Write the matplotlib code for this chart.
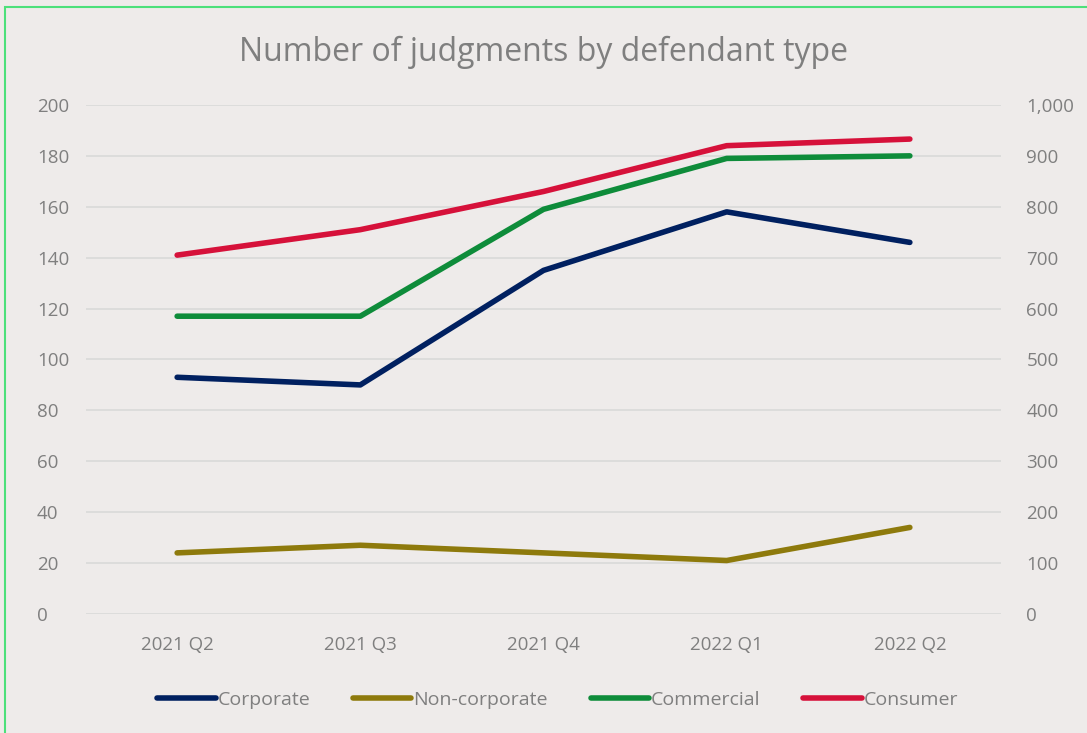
import matplotlib
matplotlib.use("Agg")
import matplotlib.pyplot as plt
from matplotlib.patches import Rectangle
from matplotlib.ticker import FuncFormatter, MultipleLocator

categories = ["2021 Q2", "2021 Q3", "2021 Q4", "2022 Q1", "2022 Q2"]
corporate = [93, 90, 135, 158, 146]
non_corporate = [24, 27, 24, 21, 34]
commercial = [117, 117, 159, 179, 180]
consumer = [705, 755, 830, 920, 933]  # secondary axis

plt.rcParams['font.family'] = ['Open Sans', 'DejaVu Sans']
bg = '#EEEBEA'
txt = '#7F7F7F'

fig = plt.figure(figsize=(10.87, 7.33), dpi=100, facecolor=bg)
ax = fig.add_axes([0.0787, 0.1624, 0.8426, 0.6944], facecolor=bg)
ax2 = ax.twinx()

x = list(range(len(categories)))
lw = 4
l1, = ax.plot(x, corporate, color='#002060', lw=lw, solid_capstyle='round', solid_joinstyle='round', label='Corporate')
l2, = ax.plot(x, non_corporate, color='#8E7A0C', lw=lw, solid_capstyle='round', solid_joinstyle='round', label='Non-corporate')
l3, = ax.plot(x, commercial, color='#0E8C3A', lw=lw, solid_capstyle='round', solid_joinstyle='round', label='Commercial')
l4, = ax2.plot(x, consumer, color='#D6113A', lw=lw, solid_capstyle='round', solid_joinstyle='round', label='Consumer')

ax.set_xlim(-0.5, 4.5)
ax.set_ylim(0, 200)
ax2.set_ylim(0, 1000)
ax.yaxis.set_major_locator(MultipleLocator(20))
ax2.yaxis.set_major_locator(MultipleLocator(100))
ax2.yaxis.set_major_formatter(FuncFormatter(lambda v, p: f"{int(v):,}"))
ax.set_xticks(x)
ax.set_xticklabels(categories)

ax.grid(axis='y', color='#D9D9D9', lw=1.2)
ax.set_axisbelow(True)
for a in (ax, ax2):
    for s in a.spines.values():
        s.set_visible(False)
    a.tick_params(length=0, colors=txt, labelsize=13.5)
ax.tick_params(axis='y', pad=35)
ax.tick_params(axis='x', pad=16)
ax2.tick_params(axis='y', pad=18)
for lab in ax.get_yticklabels():
    lab.set_horizontalalignment('left')

fig.text(0.5, 0.928, "Number of judgments by defendant type", ha='center', va='center',
         color=txt, fontsize=23)

fig.legend(handles=[l1, l2, l3, l4], loc='center', bbox_to_anchor=(0.513, 0.045),
           ncol=4, frameon=False, fontsize=14, handlelength=3.0, handletextpad=0.1,
           columnspacing=2.2, labelcolor=txt)

fig.patches.append(Rectangle((5 / 1087, -0.05), 1.2, 1 - 7 / 733 + 0.05, transform=fig.transFigure,
                             fill=False, edgecolor='#4CE07A', lw=1.5))

fig.savefig("out.png", dpi=100, facecolor=bg)
